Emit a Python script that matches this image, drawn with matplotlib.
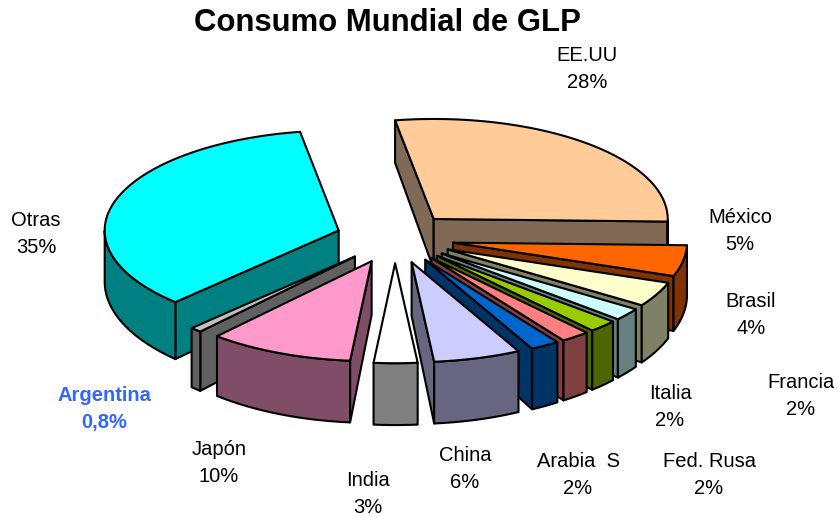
import numpy as np
import matplotlib
matplotlib.use("Agg")
import matplotlib.pyplot as plt
from matplotlib.patches import Polygon

plt.rcParams['font.family'] = ['Liberation Sans', 'DejaVu Sans']

names = ["EE.UU", "México", "Brasil", "Francia", "Italia", "Fed. Rusa", "Arabia  S",
         "China", "India", "Japón", "Argentina", "Otras"]
values = [28, 5, 4, 2, 2, 2, 2, 6, 3, 10, 0.8, 35]
value_labels = ["28%", "5%", "4%", "2%", "2%", "2%", "2%", "6%", "3%", "10%", "0,8%", "35%"]
top_colors = ["#FFCC99", "#FF6600", "#FFFFCC", "#CCFFFF", "#99CC00", "#FF8080", "#0066CC",
              "#CCCCFF", "#FFFFFF", "#FF99CC", "#C0C0C0", "#00FFFF"]
side_colors = ["#806A55", "#803300", "#808066", "#668080", "#4D6600", "#804040", "#003366",
               "#666680", "#808080", "#804D66", "#606060", "#008080"]
label_xy = [(587, 69), (740, 231), (751, 315), (801, 396), (670, 407), (709, 475),
            (578, 475), (465, 469), (368, 494), (219, 463), (104, 409), (36, 234)]
draw_order = [0, 1, 2, 3, 4, 5, 6, 7, 11, 10, 9, 8]

CX, CY, RX, RY, EXPLODE = 395, 238, 234, 100, 59
START = -9.5

fig = plt.figure(figsize=(8.38, 5.17), dpi=100)
ax = fig.add_axes([0, 0, 1, 1])
ax.set_xlim(0, 838)
ax.set_ylim(517, 0)
ax.axis("off")

def depth(y):
    return 50 + (np.asarray(y) - 215) * 0.08

def down(p):
    p = np.atleast_2d(p)
    return np.column_stack([p[:, 0], p[:, 1] + depth(p[:, 1])])

def face(pts, color, z):
    ax.add_patch(Polygon(pts, closed=True, facecolor=color, edgecolor="black",
                         linewidth=1.5, joinstyle="round", zorder=z))

fractions = np.array(values) / sum(values)
edges = START + np.concatenate([[0], np.cumsum(fractions)]) * 360

for z, i in enumerate(draw_order):
    a0, a1 = edges[i], edges[i + 1]
    mid = np.radians((a0 + a1) / 2)
    tip = np.array([CX + EXPLODE * np.sin(mid), CY - EXPLODE * RY / RX * np.cos(mid)])
    t = np.radians(np.linspace(a0, a1, 120))
    rim = np.column_stack([tip[0] + RX * np.sin(t), tip[1] - RY * np.cos(t)])
    top = np.vstack([tip, rim])
    centre = top.mean(axis=0)

    for end in (rim[0], rim[-1]):
        edge = end - tip
        rel = centre - tip
        if abs(edge[0]) > 1e-6:
            line_y = tip[1] + edge[1] / edge[0] * rel[0]
            visible = centre[1] < line_y
        else:
            visible = False
        if visible:
            seg = np.vstack([tip, end])
            face(np.vstack([seg, down(seg)[::-1]]), side_colors[i], z)

    front = np.cos(t) <= 0
    if front.sum() > 1:
        arc = rim[front]
        face(np.vstack([arc, down(arc)[::-1]]), side_colors[i], z)

    face(top, top_colors[i], z)

for i, (x, y) in enumerate(label_xy):
    bold = names[i] == "Argentina"
    ax.text(x, y, names[i] + "\n" + value_labels[i], ha="center", va="center",
            fontsize=14.5, linespacing=1.55, color="#3366FF" if bold else "black",
            fontweight="bold" if bold else "normal", zorder=50)

ax.text(387, 23, "Consumo Mundial de GLP", ha="center", va="center",
        fontsize=22.4, fontweight="bold", color="black", zorder=50)

fig.savefig("out.png", dpi=100)
